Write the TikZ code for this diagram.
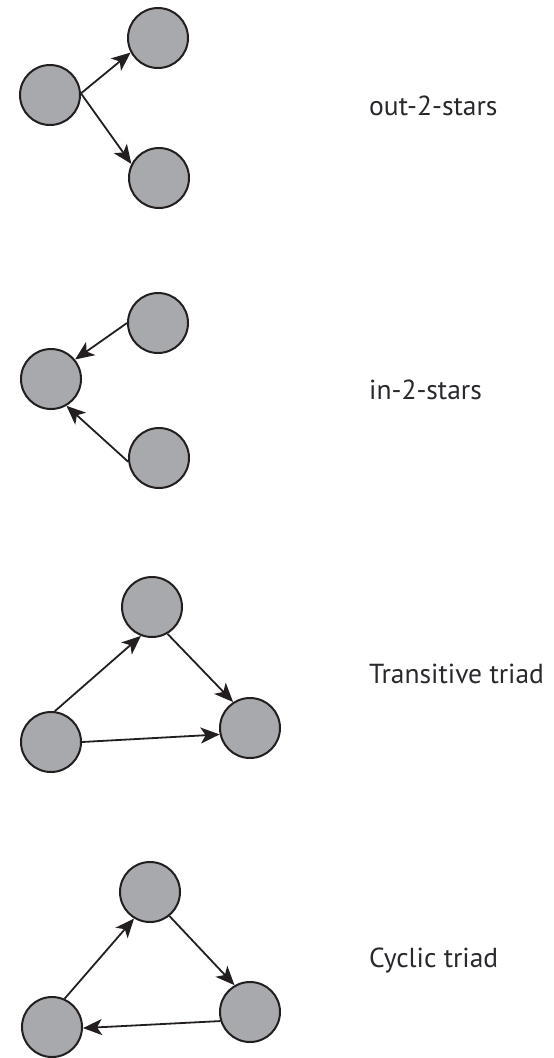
\documentclass[tikz,border=0pt]{standalone}
\usepackage{fontspec}
\setmainfont{PT Sans}
\usepackage{tikz}
\usepackage{xcolor}
\usetikzlibrary{arrows.meta}
\definecolor{actorfill}{RGB}{167, 169, 172}
\definecolor{actorline}{RGB}{35, 31, 32}
\definecolor{labeltext}{RGB}{40, 40, 45}
\tikzset{
    actor/.style={circle, draw=actorline, fill=actorfill, line width=2pt, minimum size=60pt, inner sep=0pt},
    tie/.style={draw=actorline, line width=1.8pt, -{Stealth[length=19pt, width=16pt, inset=5pt]}},
    motif/.style={anchor=base west, text=labeltext, font=\fontsize{27.5}{32}\selectfont, inner sep=0pt}
}
\begin{document}
\begin{tikzpicture}[x=1pt, y=-1pt]
    \useasboundingbox (0,0) rectangle (554,1058);

    \node[actor] (o1) at (50,95) {};
    \node[actor] (o2) at (158,38) {};
    \node[actor] (o3) at (159,178) {};
    \draw[tie] (o1.3) -- (o2.208);
    \draw[tie] (o1.3) -- (o3.153);
    \node[motif] (outlbl) at (369,115) {out-2-stars};

    \node[actor] (i1) at (51,379) {};
    \node[actor] (i2) at (158,323) {};
    \node[actor] (i3) at (159,458) {};
    \draw[tie] (i2.180) -- (i1.39);
    \draw[tie] (i3.187) -- (i1.300);
    \node[motif] (inlbl) at (369,399) {in-2-stars};

    \node[actor] (t1) at (152,607) {};
    \node[actor] (t2) at (51,742) {};
    \node[actor] (t3) at (250,728) {};
    \draw[tie] (t2.83) -- (t1.249);
    \draw[tie] (t1.-60) -- (t3.123);
    \draw[tie] (t2.0) -- (t3.192);
    \node[motif] (translbl) at (369,683) {Transitive triad};

    \node[actor] (c1) at (150,892) {};
    \node[actor] (c2) at (52,1027) {};
    \node[actor] (c3) at (250,1012) {};
    \draw[tie] (c2.66) -- (c1.239);
    \draw[tie] (c1.-51) -- (c3.120);
    \draw[tie] (c3.197) -- (c2.-2);
    \node[motif] (cyclbl) at (369,967) {Cyclic triad};
\end{tikzpicture}
\end{document}
